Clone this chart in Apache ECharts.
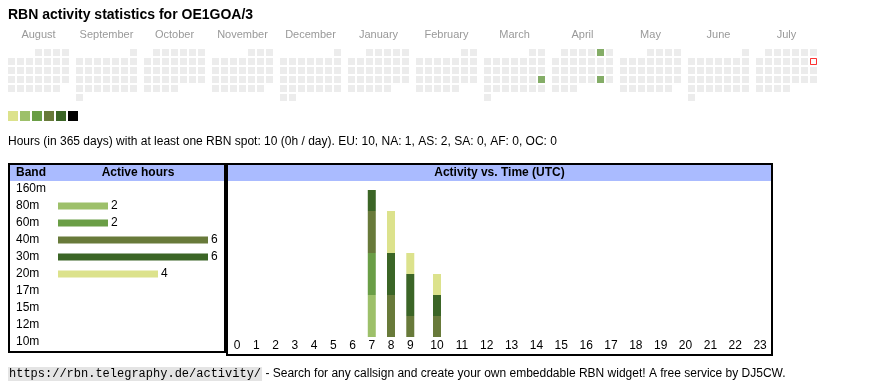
<!DOCTYPE html>
<html><head><meta charset="utf-8">
<script src="https://cdn.jsdelivr.net/npm/echarts@6/dist/echarts.min.js"></script>
<style>html,body{margin:0;padding:0;background:#fff}#c{width:870px;height:390px}</style>
</head><body><div id="c"></div>
<script>
const titleText = 'RBN activity statistics for OE1GOA/3';
const monthNames = ['August','September','October','November','December','January','February','March','April','May','June','July'];
const monthKeys = ['2024-08','2024-09','2024-10','2024-11','2024-12','2025-01','2025-02','2025-03','2025-04','2025-05','2025-06','2025-07'];
const activeDays = ['2025-03-23','2025-04-05','2025-04-26'];
const activeDayHours = [4, 3, 3];
const todayDate = '2025-07-13';
const levelColors = ['#dce28c','#9dc06a','#6a9e46','#687a3a','#3b6526','#000000'];
const levelMinHours = [1, 2, 3, 5, 9, 17];
const statsText = 'Hours (in 365 days) with at least one RBN spot: 10 (0h / day). EU: 10, NA: 1, AS: 2, SA: 0, AF: 0, OC: 0';
const footerUrl = 'https://rbn.telegraphy.de/activity/';
const footerText = ' - Search for any callsign and create your own embeddable RBN widget! A free service by DJ5CW.';

const bands = ['160m','80m','60m','40m','30m','20m','17m','15m','12m','10m'];
const bandHours = [0, 2, 2, 6, 6, 4, 0, 0, 0, 0];
const bandColors = ['#000000','#9dc06a','#6a9e46','#687a3a','#3b6526','#dce28c','#c8a040','#a07030','#804020','#602010'];

const hourLabels = ['0','1','2','3','4','5','6','7','8','9','10','11','12','13','14','15','16','17','18','19','20','21','22','23'];
const hours160m = [0,0,0,0,0,0,0,0,0,0,0,0,0,0,0,0,0,0,0,0,0,0,0,0];
const hours80m  = [0,0,0,0,0,0,0,2,0,0,0,0,0,0,0,0,0,0,0,0,0,0,0,0];
const hours60m  = [0,0,0,0,0,0,0,2,0,0,0,0,0,0,0,0,0,0,0,0,0,0,0,0];
const hours40m  = [0,0,0,0,0,0,0,2,2,1,1,0,0,0,0,0,0,0,0,0,0,0,0,0];
const hours30m  = [0,0,0,0,0,0,0,1,2,2,1,0,0,0,0,0,0,0,0,0,0,0,0,0];
const hours20m  = [0,0,0,0,0,0,0,0,2,1,1,0,0,0,0,0,0,0,0,0,0,0,0,0];
const hours17m  = [0,0,0,0,0,0,0,0,0,0,0,0,0,0,0,0,0,0,0,0,0,0,0,0];
const hours15m  = [0,0,0,0,0,0,0,0,0,0,0,0,0,0,0,0,0,0,0,0,0,0,0,0];
const hours12m  = [0,0,0,0,0,0,0,0,0,0,0,0,0,0,0,0,0,0,0,0,0,0,0,0];
const hours10m  = [0,0,0,0,0,0,0,0,0,0,0,0,0,0,0,0,0,0,0,0,0,0,0,0];
const hourlyByBand = [hours160m,hours80m,hours60m,hours40m,hours30m,hours20m,hours17m,hours15m,hours12m,hours10m];

const SANS = '"Liberation Sans", Arial, sans-serif';
const MONO = '"Liberation Mono", "Courier New", monospace';

function levelColor(h){
  let c = levelColors[0];
  levelMinHours.forEach((m,i)=>{ if (h >= m) c = levelColors[i]; });
  return c;
}

const chart = echarts.init(document.getElementById('c'), null, {renderer:'canvas'});

const calendars = monthKeys.map((m,i)=>({
  orient:'vertical', range:m, left: 7 + 68*i, top: 48, cellSize:[9,9],
  splitLine:{show:false}, dayLabel:{show:false, firstDay:1}, monthLabel:{show:false}, yearLabel:{show:false},
  itemStyle:{color:'#ececec', borderColor:'#ffffff', borderWidth:2}
}));

const series = [];
monthKeys.forEach((m,i)=>{
  const d = activeDays.map((day,k)=>[day, activeDayHours[k]]).filter(x=>x[0].startsWith(m));
  series.push({type:'scatter', coordinateSystem:'calendar', calendarIndex:i, symbol:'rect', symbolSize:7,
    silent:true, data:d, itemStyle:{color:p=>levelColor(p.value[1])}});
});
series.push({type:'scatter', coordinateSystem:'calendar', calendarIndex:monthKeys.indexOf(todayDate.slice(0,7)),
  symbol:'rect', symbolSize:6, silent:true, data:[[todayDate, 0]],
  itemStyle:{color:'#ffffff', borderColor:'#ff0000', borderWidth:1}});

// band totals
series.push({type:'bar', xAxisIndex:0, yAxisIndex:0, barWidth:7, silent:true,
  data: bandHours.map((v,i)=> v>0 ? {value:v, itemStyle:{color:bandColors[i]}} : '-'),
  label:{show:true, position:'right', distance:3, color:'#000', fontSize:12, fontFamily:SANS}});

// hourly stacked bars, split into single-digit and double-digit hour columns
const splitAt = 10;
const stackMax = Math.max(...hourLabels.map((_,h)=>hourlyByBand.reduce((s,arr)=>s+arr[h],0)));
hourlyByBand.forEach((arr,b)=>{
  [[1, arr.slice(0,splitAt)],[2, arr.slice(splitAt)]].forEach(([g,d])=>{
    series.push({type:'bar', xAxisIndex:g, yAxisIndex:g, stack:'s'+g, barWidth:8, silent:true,
      data:d, itemStyle:{color:bandColors[b]}});
  });
});

const hourAxis = (g, data)=>({type:'category', gridIndex:g, data:data,
  axisLine:{show:false}, axisTick:{show:false}, splitLine:{show:false},
  axisLabel:{interval:0, margin:3, fontSize:12, color:'#000', fontFamily:SANS}});

const graphic = [
  {type:'text', x:8, y:15, style:{text:titleText, font:'bold 14px '+SANS, fill:'#000', verticalAlign:'middle', textVerticalAlign:'middle'}},
  ...monthNames.map((n,i)=>({type:'text', x:7+68*i+31.5, y:35,
    style:{text:n, font:'11px '+SANS, fill:'#999999', align:'center', textAlign:'center', verticalAlign:'middle', textVerticalAlign:'middle'}})),
  ...levelColors.map((c,i)=>({type:'rect', shape:{x:8+12*i, y:111, width:10, height:10}, style:{fill:c}})),
  {type:'text', x:8, y:142, style:{text:statsText, font:'12px '+SANS, fill:'#000', verticalAlign:'middle', textVerticalAlign:'middle'}},
  {type:'rect', shape:{x:10, y:165, width:214, height:16}, style:{fill:'#aabbff'}},
  {type:'rect', shape:{x:228, y:165, width:543, height:16}, style:{fill:'#aabbff'}},
  {type:'text', x:16, y:173, style:{text:'Band', font:'bold 12px '+SANS, fill:'#000', verticalAlign:'middle', textVerticalAlign:'middle'}},
  {type:'text', x:138, y:173, style:{text:'Active hours', font:'bold 12px '+SANS, fill:'#000', align:'center', textAlign:'center', verticalAlign:'middle', textVerticalAlign:'middle'}},
  {type:'text', x:499.5, y:173, style:{text:'Activity vs. Time (UTC)', font:'bold 12px '+SANS, fill:'#000', align:'center', textAlign:'center', verticalAlign:'middle', textVerticalAlign:'middle'}},
  {type:'rect', shape:{x:9, y:164, width:216, height:188}, style:{fill:null, stroke:'#000', lineWidth:2}},
  {type:'rect', shape:{x:227, y:164, width:545, height:191}, style:{fill:null, stroke:'#000', lineWidth:2}},
  {type:'text', x:8, y:374, style:{
    text:'{u|'+footerUrl+'}{t|'+footerText+'}', verticalAlign:'middle', textVerticalAlign:'middle',
    rich:{u:{fontFamily:MONO, fontSize:12, color:'#555555', backgroundColor:'#e4e4e4', padding:[1,1]},
          t:{fontFamily:SANS, fontSize:12, color:'#000'}}}}
];

chart.setOption({
  animation:false,
  backgroundColor:'#ffffff',
  calendar: calendars,
  grid:[
    {left:58, top:180.5, width:150, height:170},
    {left:227.4, top:190, width:192.5, height:147},
    {left:424.6, top:190, width:347.9, height:147}
  ],
  xAxis:[
    {type:'value', gridIndex:0, min:0, max:Math.max(...bandHours), show:false},
    hourAxis(1, hourLabels.slice(0,splitAt)),
    hourAxis(2, hourLabels.slice(splitAt))
  ],
  yAxis:[
    {type:'category', gridIndex:0, data:bands, inverse:true, axisLine:{show:false}, axisTick:{show:false},
      axisLabel:{align:'left', margin:42, fontSize:12, color:'#000', fontFamily:SANS}},
    {type:'value', gridIndex:1, min:0, max:stackMax, show:false},
    {type:'value', gridIndex:2, min:0, max:stackMax, show:false}
  ],
  series: series,
  graphic: graphic
});
</script></body></html>
